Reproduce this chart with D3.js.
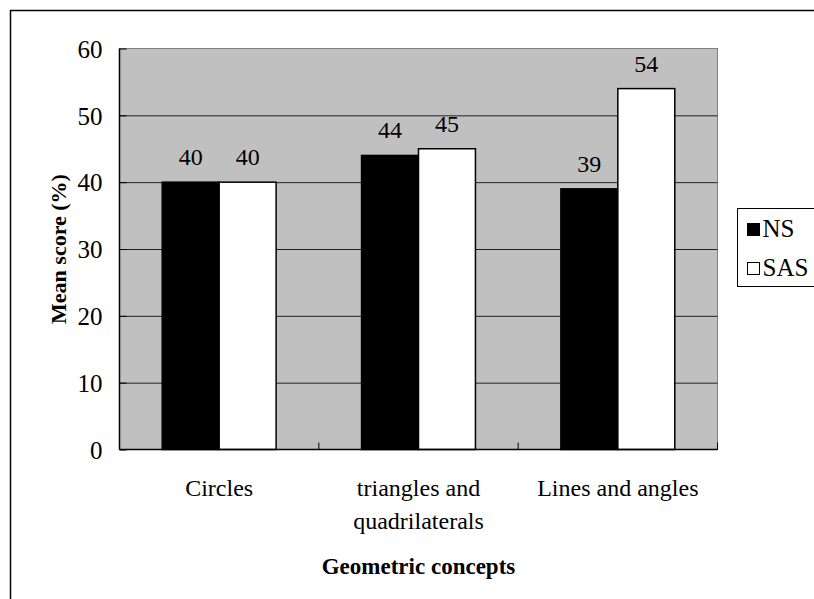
<!DOCTYPE html>
<html>
<head>
<meta charset="utf-8">
<script src="https://cdn.jsdelivr.net/npm/d3@7"></script>
<style>
  body { margin: 0; background: #fff; }
</style>
</head>
<body>
<svg width="814" height="599"></svg>
<script>
// data
let categories = [["Circles"], ["triangles and", "quadrilaterals"], ["Lines and angles"]];
let seriesNames = ["NS", "SAS"];
let nsValues = [40, 44, 39];
let sasValues = [40, 45, 54];
let yTicks = [0, 10, 20, 30, 40, 50, 60];

let serif = "'Liberation Serif', 'Times New Roman', Times, serif";
let margin = {top: 48.5, left: 119.5};
let width = 598;   // plot area
let height = 401;

var svg = d3.select("svg").style("font-family", serif);

// outer frame (only top and left show inside the picture)
svg.append("rect")
   .attr("x", 10.5).attr("y", 10.5)
   .attr("width", 900).attr("height", 700)
   .attr("fill", "none")
   .attr("stroke", "#000")
   .attr("stroke-width", 1.5);

var g = svg.append("g").attr("transform", "translate(" + margin.left + "," + margin.top + ")");

var catKeys = categories.map(function(c) { return c.join(" "); });

var x0 = d3.scaleBand()
           .domain(catKeys)
           .range([0, width])
           .padding(0);

var x1 = d3.scaleBand()
           .domain(seriesNames)
           .range([0, x0.bandwidth()])
           .paddingInner(0)
           .paddingOuter(0.75);

var y = d3.scaleLinear()
          .domain([0, 60])
          .range([height, 0]);

// plot background
g.append("rect")
 .attr("x", 0).attr("y", 0)
 .attr("width", width).attr("height", height)
 .attr("fill", "#c0c0c0")
 .attr("stroke", "#808080")
 .attr("stroke-width", 1);

// gridlines
g.append("g")
 .attr("class", "grid")
 .call(d3.axisLeft(y).tickValues(yTicks.slice(1, -1)).tickSize(-width).tickFormat(""))
 .call(function(s) { s.select(".domain").remove(); })
 .selectAll("line")
 .attr("stroke", "#222");

// bars
var rows = catKeys.map(function(k, i) {
    return {cat: k, values: [{s: "NS", v: nsValues[i]}, {s: "SAS", v: sasValues[i]}]};
});

var groups = g.selectAll("g.cat")
    .data(rows)
    .enter().append("g")
    .attr("class", "cat")
    .attr("transform", function(d) { return "translate(" + x0(d.cat) + ",0)"; });

groups.selectAll("rect")
    .data(function(d) { return d.values; })
    .enter().append("rect")
    .attr("x", function(d) { return x1(d.s); })
    .attr("y", function(d) { return y(d.v); })
    .attr("width", x1.bandwidth())
    .attr("height", function(d) { return height - y(d.v); })
    .attr("fill", function(d) { return d.s === "NS" ? "#000" : "#fff"; })
    .attr("stroke", "#000")
    .attr("stroke-width", 1.5);

// value labels
groups.selectAll("text.val")
    .data(function(d) { return d.values; })
    .enter().append("text")
    .attr("class", "val")
    .attr("x", function(d) { return x1(d.s) + x1.bandwidth() / 2; })
    .attr("y", function(d) { return y(d.v) - 17; })
    .attr("text-anchor", "middle")
    .style("font-family", serif)
    .style("font-size", "24px")
    .text(function(d) { return d.v; });

// y axis (ticks inside)
var yAxis = g.append("g")
    .call(d3.axisLeft(y).tickValues(yTicks).tickSize(-7).tickPadding(17));
yAxis.attr("font-family", null).attr("font-size", null);
yAxis.select(".domain").remove();
yAxis.selectAll("line").attr("stroke", "#000");
yAxis.selectAll("text")
     .style("font-family", serif)
     .style("font-size", "25px")
     .attr("dy", "0.35em");

g.append("line")
 .attr("x1", 0).attr("x2", 0)
 .attr("y1", 0).attr("y2", height)
 .attr("stroke", "#000").attr("stroke-width", 1.5);

// x axis (ticks inside, between categories)
var xAxis = g.append("g")
    .attr("transform", "translate(0," + height + ")");
xAxis.append("line")
     .attr("x1", 0).attr("x2", width)
     .attr("stroke", "#000").attr("stroke-width", 1.5);
xAxis.selectAll("line.tk")
     .data(catKeys.concat(["end"]))
     .enter().append("line")
     .attr("class", "tk")
     .attr("x1", function(d) { return d === "end" ? width : x0(d); })
     .attr("x2", function(d) { return d === "end" ? width : x0(d); })
     .attr("y1", 0).attr("y2", -7)
     .attr("stroke", "#000");

var xl = xAxis.selectAll("text.cl")
     .data(categories)
     .enter().append("text")
     .attr("class", "cl")
     .attr("text-anchor", "middle")
     .style("font-family", serif)
     .style("font-size", "24px")
     .attr("transform", function(d, i) { return "translate(" + (x0(catKeys[i]) + x0.bandwidth() / 2) + ",46)"; });
xl.selectAll("tspan")
  .data(function(d) { return d; })
  .enter().append("tspan")
  .attr("x", 0)
  .attr("dy", function(d, i) { return i === 0 ? 0 : 33; })
  .text(function(d) { return d; });

// axis titles
g.append("text")
 .attr("x", width / 2)
 .attr("y", height + 124)
 .attr("text-anchor", "middle")
 .style("font-family", serif)
 .style("font-size", "23px")
 .style("font-weight", "bold")
 .text("Geometric concepts");

g.append("text")
 .attr("transform", "translate(-54," + (height / 2) + ") rotate(-90)")
 .attr("text-anchor", "middle")
 .style("font-family", serif)
 .style("font-size", "22px")
 .style("font-weight", "bold")
 .text("Mean score (%)");

// legend
var legend = svg.append("g").attr("transform", "translate(737.5,208.5)");
legend.append("rect")
      .attr("width", 120).attr("height", 78)
      .attr("fill", "#fff")
      .attr("stroke", "#000");
var li = legend.selectAll("g.item")
      .data(seriesNames)
      .enter().append("g")
      .attr("class", "item")
      .attr("transform", function(d, i) { return "translate(10," + (15 + i * 39) + ")"; });
li.append("rect")
  .attr("width", 12).attr("height", 12)
  .attr("fill", function(d) { return d === "NS" ? "#000" : "#fff"; })
  .attr("stroke", "#000");
li.append("text")
  .attr("x", 15).attr("y", 13)
  .style("font-family", serif)
  .style("font-size", "25px")
  .text(function(d) { return d; });
</script>
</body>
</html>
